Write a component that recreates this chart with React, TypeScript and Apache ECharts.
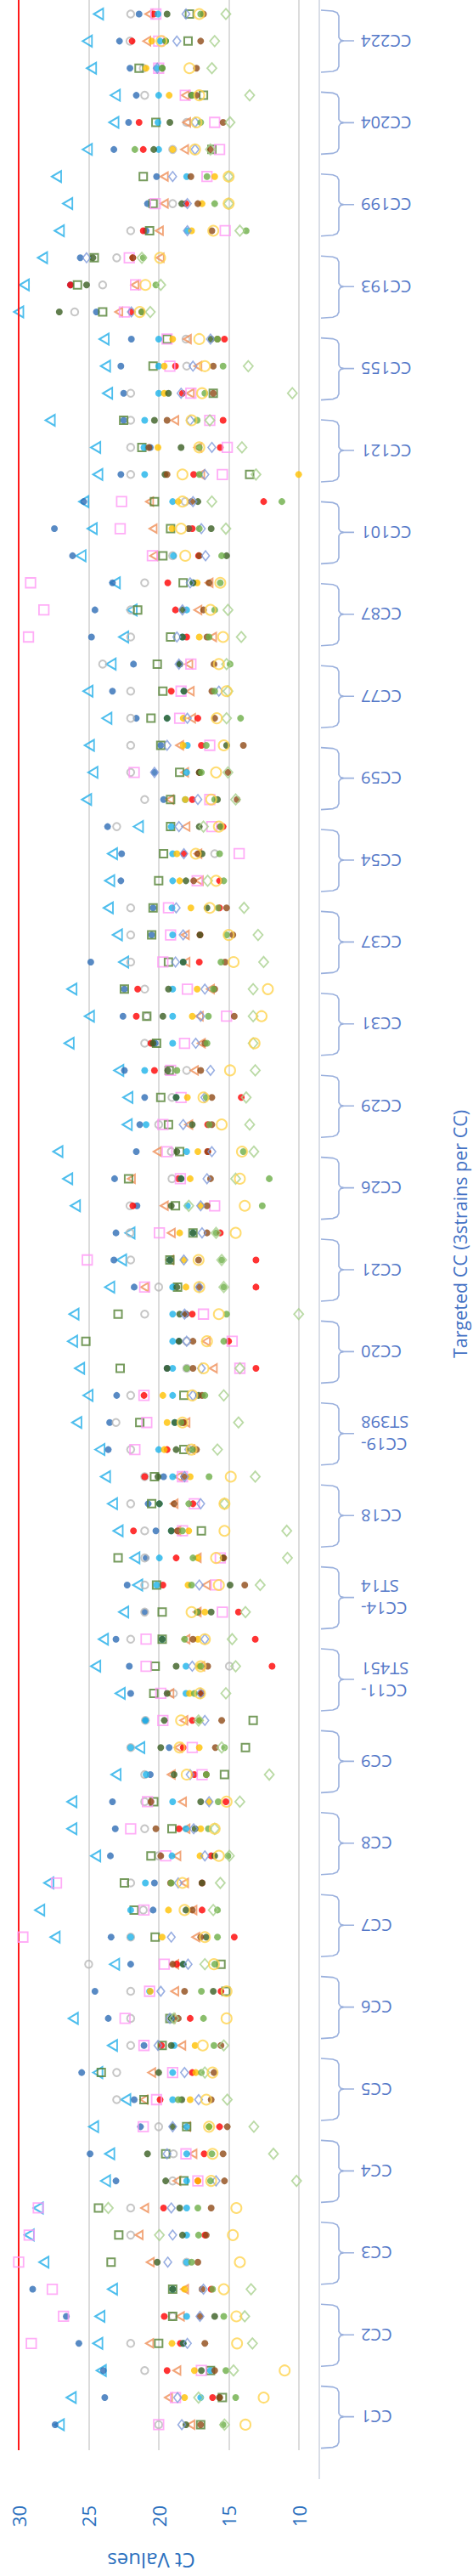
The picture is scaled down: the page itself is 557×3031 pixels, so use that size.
import React, { useEffect, useRef } from "react";
import * as echarts from "echarts";

// Targeted CC groups, top to bottom (3 strains per CC)
const groups = [
  "CC224", "CC204", "CC199", "CC193", "CC155", "CC121", "CC101", "CC87", "CC77", "CC59",
  "CC54", "CC37", "CC31", "CC29", "CC26", "CC21", "CC20", "CC19-\nST398", "CC18", "CC14-\nST14",
  "CC11-\nST451", "CC9", "CC8", "CC7", "CC6", "CC5", "CC4", "CC3", "CC2", "CC1",
];
const ctTicks = [10, 15, 20, 25, 30];
const ctMin = 10;
const ctMax = 30;
const cutoff = 30;

// Ct values per marker series, one value per strain row (top to bottom)
const s1 = [24.3, 25.1, 24.8, 23.1, 23.2, 25.1, 27.3, 26.5, 27.1, 28.3,
  29.6, 30.0, 23.9, 23.8, 23.65, 27.75, 24.5, 24.35, 25.35, 24.75,
  25.55, 23.1, 21.9, 22.5, 23.4, 25.05, 23.7, 24.95, 24.7, 25.15,
  21.45, 23.3, 23.5, 23.6, 22.95, 22.5, 26.2, 24.95, 26.4, 22.85,
  22.2, 22.25, 27.2, 26.5, 25.95, 22.05, 22.65, 23.5, 26.05, 26.15,
  25.65, 25.05, 25.85, 24.2, 23.8, 23.3, 22.9, 21.7, 21.5, 22.5,
  23.95, 24.5, 22.75, null, 21.35, 23.05, 26.2, 26.2, 24.5, 27.85,
  28.5, 27.4, 23.15, null, 26.1, 23.3, 24.35, 22.35, 24.65, 23.5,
  23.8, 28.6, 29.25, 28.2, 23.3, 24.2, 24.35, 24.1, 26.25, 27.1];
const s2 = [21.4, 22.8, 22.05, 21.6, 22.15, 23.2, 20.15, 20.8, 20.9, 25.6,
  26.3, 24.45, 21.95, 22.7, 22.5, 22.5, 20.6, 22.7, 25.35, 27.45,
  26.15, 23.3, 24.55, 24.8, 21.8, 23.3, 21.6, 19.85, 20.3, 19.65,
  23.65, 22.65, 22.7, 20.4, 20.5, 24.85, 22.45, 22.55, 20.25, 22.45,
  21.0, 21.35, 21.6, 23.15, 21.55, 23.05, 23.2, 21.75, 18.05, 18.55,
  19.4, 23.0, 23.5, 23.6, 19.65, 20.75, 20.2, 20.9, 22.25, 21.0,
  23.05, 22.1, 22.0, 20.95, 19.25, 20.6, 23.3, 23.1, 23.45, 20.3,
  20.4, 23.4, 22.0, 24.55, 23.6, 21.05, 25.5, 21.75, 21.3, 24.9,
  23.05, null, null, null, 29.0, 26.6, 25.7, 23.95, 23.85, 27.4];
const s3 = [22.0, 22.05, 21.1, 21.0, 18.0, 19.0, null, 19.0, 22.0, 23.0,
  24.0, 26.0, 18.05, 18.0, 22.0, 22.0, 22.0, 22.0, 18.1, null,
  19.0, 21.0, 22.0, 22.0, 24.0, 22.0, 22.0, 22.0, 22.0, 21.0,
  23.0, 16.0, null, 22.0, 22.0, 22.0, 21.0, 20.85, 21.0, 18.0,
  19.05, 20.0, 19.1, 19.05, 22.05, 22.05, 22.0, 20.0, 21.0, 18.0,
  18.0, 22.0, 23.05, 22.0, 21.0, 22.0, 21.0, 21.0, 21.0, 21.0,
  22.0, 14.95, 18.95, 20.95, 22.0, 21.0, 21.0, 21.0, 20.0, 22.0,
  21.1, 22.0, 25.0, 22.0, 22.0, 22.0, 23.0, 23.0, 20.0, 18.95,
  19.0, 22.0, 22.0, 18.0, null, 19.0, 22.0, 21.0, null, 20.0];
const s4 = [20.7, 20.85, null, 18.1, 18.0, 18.15, 19.6, 19.6, 19.95, 19.9,
  21.7, 22.85, 17.95, 17.2, 17.75, 18.85, 17.2, 17.0, 20.65, 20.4,
  20.35, 16.4, 17.2, 16.15, 17.85, 17.75, 17.65, 18.5, 18.15, 19.2,
  18.05, 17.2, 17.1, null, 18.1, 18.05, 16.3, 17.1, 16.95, 17.45,
  null, 17.85, 20.1, 21.95, 19.6, 19.1, 19.2, 21.0, null, 16.6,
  16.1, null, 18.05, 17.7, 18.6, 18.9, 18.7, 17.25, 16.6, 17.25,
  18.05, 17.0, 19.2, 18.2, 18.6, 19.1, 18.3, 18.05, 18.7, 18.15,
  17.55, 17.35, 18.85, 18.85, 19.1, 18.35, 20.5, 21.05, 18.0, 17.55,
  18.7, 21.0, 21.4, 20.6, 18.15, 18.45, 20.65, 18.7, 19.3, 17.7];
const s5 = [20.35, 21.9, null, null, 21.4, 21.1, null, 18.05, 21.1, 21.85,
  26.3, 21.95, 15.3, 18.8, 18.3, 15.4, 15.6, 17.5, 12.5, 17.6,
  17.15, 19.35, 18.8, 18.0, 18.5, 19.1, 17.2, 16.95, 17.1, 17.6,
  15.4, 18.2, 15.65, 15.65, 17.05, 17.1, 21.5, 21.6, 20.55, 20.3,
  14.1, 16.5, 16.5, 18.6, 21.85, 15.6, 13.05, 13.05, 17.6, 15.0,
  13.05, 21.05, 18.3, 19.4, 21.0, 17.55, 21.8, 18.75, 19.7, 14.3,
  13.1, 11.9, 16.95, 17.6, 18.25, 17.45, 15.2, 18.55, 16.25, 16.9,
  16.9, 14.6, 18.7, 15.55, 17.75, 19.8, 17.6, 19.9, 15.65, 16.75,
  17.2, 19.65, 16.7, null, 16.25, 19.6, 18.45, 19.4, 16.15, null];
const s6 = [17.8, 17.9, 21.4, 16.8, 20.2, 16.2, 21.1, 20.4, 20.65, 24.6,
  25.8, 24.0, 19.4, 20.4, 16.1, 22.5, 21.2, 13.5, 20.3, 19.15,
  19.7, 18.25, 21.5, 19.15, 20.1, 19.7, 20.55, 19.85, 18.5, 19.15,
  19.15, 19.65, 20.0, 20.4, 20.5, 19.3, 22.45, 20.85, 20.15, 19.25,
  19.85, 19.3, 18.5, 22.15, 18.8, 17.55, 19.2, 18.65, 22.9, 25.2,
  22.75, 18.2, 21.35, 18.2, 20.3, 20.5, 16.95, 22.9, 20.15, 19.75,
  19.75, 20.25, 20.35, 13.25, 13.8, 15.3, 20.35, 19.05, 20.55, 22.45,
  21.75, 20.25, 15.55, 15.2, 19.2, 19.75, 24.1, 21.05, 18.0, 19.5,
  18.2, 24.3, 22.85, 23.4, 19.0, 19.0, 20.0, 16.3, 15.45, 17.0];
const s7 = [20.2, 20.0, 20.0, 18.1, 16.0, 15.65, 16.55, 20.25, 15.25, 22.1,
  21.65, 22.45, 19.4, 19.2, 17.7, 16.35, 15.1, 15.45, 22.65, 22.75,
  20.45, 29.15, 28.2, 29.3, 17.7, 18.4, 18.5, 16.35, 21.75, 16.35,
  16.2, 14.25, 17.25, 19.3, 19.15, 19.7, 17.95, 15.15, 18.15, 19.15,
  18.4, 19.7, 19.4, 18.45, 16.0, 19.95, 25.1, 21.0, 16.8, 14.75,
  14.2, 21.05, 20.85, 21.7, 18.3, 17.45, 18.3, 15.6, 15.9, 15.45,
  20.9, 20.9, 19.85, 19.7, 17.6, 16.9, 20.8, 22.0, 19.5, 27.3,
  21.05, 29.7, 19.6, 20.65, 22.4, 21.05, 19.0, 20.15, 21.1, 18.05,
  17.2, 28.6, 29.25, 30.0, 27.6, 26.8, 29.1, 16.95, 18.8, 20.0];
const s8 = [20.05, 19.9, 20.15, 20.0, 20.05, 20.0, 18.0, null, 17.95, null,
  null, null, 20.0, 20.0, 20.0, 21.0, 21.05, 21.0, 19.0, 17.85,
  18.95, 17.55, 18.0, 18.3, 18.5, 18.2, 19.4, 17.95, 18.0, 18.1,
  19.1, 19.0, 19.0, 19.05, 19.0, 18.25, 19.0, 19.0, 19.0, 21.0,
  18.75, 20.9, 18.0, 18.4, 17.95, 17.55, 19.2, 19.0, 19.0, 19.0,
  19.0, 19.0, 18.85, 20.0, 19.0, 19.95, 19.1, 19.95, 20.15, null,
  19.75, 18.05, 18.05, 20.95, 22.0, 20.9, 19.0, 18.05, 19.05, 20.95,
  22.0, 22.0, 18.25, 20.65, 19.1, 18.9, 19.0, 19.0, 18.0, 18.0,
  18.0, 18.0, 18.0, 18.0, 19.0, 18.0, 18.25, 16.3, 17.0, null];
const s9 = [null, 20.5, 20.9, 19.25, null, 19.0, 16.0, 16.9, 17.65, null,
  null, null, 19.0, 19.6, 19.6, null, 20.05, 10.0, 18.6, 19.05,
  null, 17.25, null, 17.1, null, null, 18.25, 18.25, null, 18.1,
  null, 18.7, 18.5, 17.7, null, null, 17.25, 17.6, null, null,
  17.95, null, 17.2, 17.75, 17.0, 18.5, 18.2, 18.05, null, null,
  null, 19.7, 19.4, 19.6, 17.75, null, 17.85, 17.2, 17.9, 16.7,
  17.2, 17.1, 17.8, 17.05, 17.1, null, 16.4, 17.0, 17.05, null,
  19.3, 19.75, null, 20.6, null, 17.4, 17.35, 17.75, 16.4, null,
  17.2, null, null, null, 18.15, null, 19.05, 17.45, 18.15, null];
const s10 = [19.4, 19.5, 19.75, 17.65, 19.2, 20.35, null, 18.35, null, 24.7,
  25.15, 27.1, 16.25, null, 19.3, 20.3, 18.4, 19.55, 17.2, 16.25,
  15.15, 17.55, 18.3, 18.3, 18.5, 18.2, 19.4, 15.15, 17.1, 15.8,
  17.1, 16.9, 18.05, 16.55, 17.05, 18.25, 19.3, 19.7, 20.4, 19.35,
  18.75, 17.6, 18.7, 18.4, 19.1, 17.55, 19.2, 18.7, 18.5, 18.55,
  19.4, 17.15, 18.85, 18.75, 20.05, 19.95, 19.1, 15.4, 14.9, 16.25,
  19.75, 18.75, 19.4, 19.6, 19.85, 18.9, 17.0, 17.4, 16.0, 16.9,
  18.05, 16.6, 18.25, 16.1, 19.1, 19.1, 20.0, 18.35, 19.0, 20.8,
  19.5, 18.5, 18.3, 20.1, 19.0, 16.0, 18.25, 16.95, 15.65, 18.05];
const s11 = [16.8, 17.0, 17.3, 17.3, 15.4, 16.3, 17.7, 17.2, 16.2, 21.85,
  null, 21.2, 15.8, 16.1, 16.1, 19.4, 20.7, 19.4, 17.65, 17.85,
  17.1, 16.4, 16.8, 16.55, 16.05, 16.2, 16.0, 13.95, 15.05, 14.4,
  15.6, 17.2, 17.5, 15.15, 14.7, 15.25, 16.0, 14.6, 16.7, 17.0,
  16.2, 16.2, 16.5, 16.3, 16.55, 16.55, 17.15, 17.1, 18.05, 17.55,
  17.55, 16.9, 18.2, 17.3, 18.2, 18.9, 18.65, 15.35, 13.85, 17.2,
  17.55, 16.5, 16.95, 15.5, 15.95, 16.6, 20.55, 20.2, 19.85, 19.15,
  17.6, 17.0, 19.0, 18.15, 18.6, 15.55, 16.05, 16.25, 15.1, 15.4,
  15.3, 16.25, 16.6, 17.2, 16.9, 17.05, 16.7, 16.0, 15.65, 17.0];
const s12 = [18.05, 18.7, 20.1, null, 17.4, 17.4, 19.0, 17.95, 17.95, 25.15,
  null, 21.95, 16.3, 17.55, 18.4, 17.75, 16.2, 16.7, 17.55, 16.95,
  16.65, 17.75, 18.3, 18.7, 18.55, 15.7, 17.95, 19.4, 20.3, 17.2,
  18.55, 18.2, null, 18.75, 18.25, 18.8, 16.7, 17.0, 17.35, 16.3,
  16.7, 18.25, 16.2, 16.55, 17.0, 16.9, 18.2, 17.1, 18.15, 18.0,
  16.95, 17.55, null, 17.85, 18.15, 17.0, null, null, 17.1, null,
  16.7, 17.6, 17.0, 16.7, null, 17.75, 16.4, 17.5, 16.7, 18.6,
  null, 19.1, 17.9, 19.85, 19.2, 20.05, 18.15, 17.15, 19.0, 19.4,
  15.9, 19.1, 19.0, 19.35, 16.8, 17.05, 17.95, null, 18.65, 18.35];
const s13 = [17.0, 19.5, 19.75, 17.6, 17.0, 21.7, 16.55, 16.0, 13.75, 21.1,
  20.2, 21.2, 15.8, 15.4, 16.7, 17.25, 17.1, 17.1, 11.2, 17.1,
  15.5, 15.6, 16.0, 16.4, 14.9, 16.0, 14.15, 16.6, 16.95, 16.0,
  15.55, 15.65, 15.35, 15.75, 15.15, 15.55, 16.1, 16.45, 16.55, 18.7,
  16.6, 16.4, 13.95, 12.1, 12.6, 15.9, 15.5, 15.35, 15.15, 15.35,
  18.0, 16.7, 18.4, 17.6, 16.4, 17.85, 18.3, 17.55, 17.65, 17.25,
  18.15, 17.0, 17.45, 17.1, 15.3, 16.6, 15.75, 16.45, 15.05, 19.1,
  15.8, 15.8, 16.0, 16.95, 16.8, 16.05, 16.95, 18.6, 16.4, 16.2,
  16.3, 17.2, 17.15, 17.65, 16.15, 15.35, null, 15.2, 14.5, 15.4];
const s14 = [15.2, 16.0, 16.2, 13.5, 14.9, 16.3, 15.0, 15.0, 14.2, 21.2,
  19.85, 20.6, null, 13.6, 10.45, 16.35, 14.05, 13.05, 16.2, 15.2,
  null, null, 15.05, 14.1, 15.15, 15.05, 15.15, null, 15.05, 14.5,
  16.8, null, 16.5, 13.9, 12.9, 12.5, 13.25, 13.25, 13.25, 13.1,
  13.75, 13.5, 13.2, 14.5, 17.85, 15.9, 15.5, 15.35, 10.0, null,
  14.2, 15.35, 14.3, 15.8, 13.1, 15.3, 10.85, 10.8, 12.75, 13.8,
  14.75, 14.5, 15.2, 17.15, 15.5, 12.1, 14.2, 16.0, 14.95, 15.6,
  16.1, null, 16.7, null, 18.9, 15.35, 16.7, 15.1, 13.2, 11.8,
  10.15, 23.6, 19.95, null, 13.4, 13.85, 13.3, 14.65, 17.15, 15.3];
const s15 = [17.1, 19.8, 17.8, 17.1, 17.3, 17.4, 15.0, 15.0, 16.1, 19.9,
  20.95, 21.35, 17.1, 16.7, 16.9, 17.65, 17.1, 18.3, 18.3, 18.4,
  18.1, 15.6, 16.3, 15.4, 15.7, 15.15, 15.85, 15.35, 15.9, 16.25,
  15.7, 17.35, 15.9, 16.35, 15.0, 14.65, 12.2, 12.65, 13.15, 14.9,
  16.8, 15.5, 14.05, 14.2, 13.85, 14.5, 17.15, 17.1, 15.7, 16.55,
  16.8, 17.6, 18.3, 17.65, 14.85, 15.3, 15.3, 15.9, 15.7, 17.65,
  16.7, 17.0, 17.05, 18.4, 18.5, 18.0, 15.15, 16.0, 15.7, 18.3,
  18.15, 16.7, 16.05, 15.15, 15.15, 16.85, 16.15, 16.6, 16.4, 16.15,
  16.25, 14.45, 14.7, 14.2, 15.35, 14.45, 14.4, 11.0, 12.5, 13.8];

const FONT = "'Open Sans', 'Noto Sans', sans-serif";

const markerDefs: any[] = [
  { data: s1, symbol: "triangle", size: [13, 11], rotate: 90, color: "#22AEE8", hollow: true, bw: 2 },
  { data: s2, symbol: "circle", size: 8, color: "#2E6DB5" },
  { data: s3, symbol: "circle", size: 8.5, color: "#B8B8B8", hollow: true, bw: 2 },
  { data: s4, symbol: "triangle", size: [10, 8.5], rotate: 90, color: "#EF8E57", hollow: true, bw: 2 },
  { data: s5, symbol: "circle", size: 8, color: "#FF0000" },
  { data: s6, symbol: "rect", size: 9, color: "#548235", hollow: true, bw: 2 },
  { data: s7, symbol: "rect", size: 11.5, color: "#FF99F5", hollow: true, bw: 1.8 },
  { data: s8, symbol: "circle", size: 8, color: "#1DB3EA" },
  { data: s9, symbol: "circle", size: 8, color: "#FFC000" },
  { data: s10, symbol: "circle", size: 8, color: "#3A5E22" },
  { data: s11, symbol: "circle", size: 8, color: "#8F4A16" },
  { data: s12, symbol: "diamond", size: [9, 11.5], color: "#7E9ADB", hollow: true, bw: 1.6 },
  { data: s13, symbol: "circle", size: 8, color: "#6DAE47" },
  { data: s14, symbol: "diamond", size: [11, 12.5], color: "#A9D18E", hollow: true, bw: 1.8 },
  { data: s15, symbol: "circle", size: 12, color: "#FFD34D", hollow: true, bw: 2 },
];

export default function App() {
  const ref = useRef<HTMLDivElement>(null);

  useEffect(() => {
    if (!ref.current) return;
    const chart = echarts.init(ref.current, undefined, { renderer: "svg" });

    const rowPitch = 31.87;
    const firstRowY = 16.5;
    const plotBottom = 2883;
    const yMin = -firstRowY / rowPitch;
    const yMax = plotBottom / rowPitch + yMin;

    const series: any[] = markerDefs.map((d, si) => ({
      type: "scatter",
      name: "Series " + (si + 1),
      clip: false,
      symbol: d.symbol,
      symbolSize: d.size,
      symbolRotate: d.rotate || 0,
      itemStyle: d.hollow
        ? { color: "rgba(0,0,0,0)", borderColor: d.color, borderWidth: d.bw }
        : { color: d.color, borderWidth: 0 },
      data: d.data
        .map((v: number | null, i: number) => (v == null ? null : [v, i]))
        .filter((p: any) => p !== null),
      z: 2 + si,
      ...(si === 0
        ? {
            markLine: {
              silent: true,
              symbol: ["none", "none"],
              label: { show: false },
              lineStyle: { color: "#FF1A1A", width: 2, type: "solid" },
              data: [{ xAxis: cutoff }],
            },
          }
        : {}),
    }));

    const graphics: any[] = [
      {
        type: "line",
        silent: true,
        shape: { x1: 376, y1: 0, x2: 376, y2: 2917 },
        style: { stroke: "#D9DEE7", lineWidth: 2 },
      },
    ];
    const bx0 = 378, bx1 = 392, bx2 = 397, bx3 = 399, bx4 = 401, bx5 = 405, bxTip = 417;
    groups.forEach((g, gi) => {
      const yc = 48 + gi * 96.4;
      graphics.push({
        type: "polyline",
        silent: true,
        shape: {
          points: [
            [bx0, yc - 36], [bx1, yc - 35], [bx2, yc - 33], [bx3, yc - 29], [bx3, yc - 4],
            [bx4, yc - 1], [bx5, yc], [bxTip, yc], [bx5, yc], [bx4, yc + 1], [bx3, yc + 4],
            [bx3, yc + 30], [bx2, yc + 34], [bx1, yc + 36], [bx0, yc + 37],
          ],
        },
        style: { stroke: "#9AB0DD", lineWidth: 1.6, fill: null },
      });
      graphics.push({
        type: "text",
        silent: true,
        x: 425,
        y: yc,
        rotation: Math.PI,
        style: {
          text: g,
          fontSize: 20,
          lineHeight: 26,
          fontFamily: FONT,
          fill: "#5478C8",
          align: "right",
          verticalAlign: "middle",
        },
      });
    });
    graphics.push({
      type: "text",
      silent: true,
      x: 541,
      y: 1452,
      rotation: Math.PI / 2,
      style: {
        text: "Targeted CC (3strains per CC)",
        fontSize: 21.5,
        lineHeight: 22,
        fontFamily: FONT,
        fill: "#4472C4",
        align: "center",
        verticalAlign: "middle",
      },
    });
    graphics.push({
      type: "text",
      silent: true,
      x: 178,
      y: 3013,
      rotation: Math.PI,
      style: {
        text: "Ct Values",
        fontSize: 24,
        fontFamily: FONT,
        fill: "#2B70BE",
        align: "center",
        verticalAlign: "middle",
      },
    });

    chart.setOption({
      animation: false,
      backgroundColor: "#FFFFFF",
      grid: { left: 4.5, right: 557 - 351.7, top: 0, bottom: 3031 - plotBottom, containLabel: false },
      xAxis: {
        type: "value",
        inverse: true,
        min: ctMin,
        max: ctMax,
        interval: ctTicks[1] - ctTicks[0],
        axisLine: { show: false },
        axisTick: { show: false },
        splitLine: { show: true, lineStyle: { color: "#DCDCDC", width: 2 } },
        axisLabel: {
          rotate: 90,
          margin: 65,
          fontSize: 22,
          lineHeight: 22,
          fontFamily: FONT,
          color: "#2B70BE",
          padding: [22, 0, 0, 0],
          formatter: (v: number) => (ctTicks.includes(v) ? String(v) : ""),
        },
      },
      yAxis: {
        type: "value",
        inverse: true,
        min: yMin,
        max: yMax,
        show: false,
      },
      graphic: graphics,
      series,
    });

    return () => chart.dispose();
  }, []);

  return (
    <div
      ref={ref}
      style={{ position: "absolute", left: 0, top: 0, width: 557, height: 3031 }}
    />
  );
}
